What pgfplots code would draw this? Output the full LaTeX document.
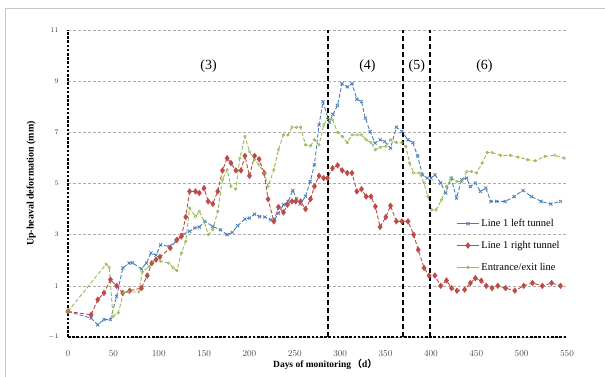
\documentclass[border=0pt]{standalone}
\usepackage{pgfplots}
\pgfplotsset{compat=1.18}
\usepackage{fontspec}
\setmainfont{Liberation Serif}
\newfontfamily\calibri{Carlito}
\newfontfamily\cjk{Noto Sans CJK SC}
\definecolor{cblue}{HTML}{4A7EBB}
\definecolor{cred}{HTML}{BE4B48}
\definecolor{cgreen}{HTML}{98B954}
\begin{document}
\begin{tikzpicture}
\path[use as bounding box] (-68bp,-40bp) rectangle (537bp,337bp);
\draw[gray!45, line width=0.8bp] (-63bp,-45bp) -- (-63bp,329bp) -- (545bp,329bp);
\begin{axis}[
  at={(0,0)}, anchor=south west,
  scale only axis, width=499bp, height=307bp,
  xmin=0, xmax=550, ymin=-1, ymax=11,
  xtick={0,50,...,550}, ytick={-1,1,...,11},
  axis x line*=bottom, axis y line*=left,
  axis line style={-, black, line width=2.2bp, dash pattern=on 2.6bp off 1.6bp},
  major tick length=0pt,
  ymajorgrids,
  grid style={gray!65, line width=0.6bp, dash pattern=on 3bp off 2bp},
  xticklabel style={font=\fontsize{9.5}{10}\selectfont, text=black!70, anchor=base, yshift=-19bp},
  yticklabel style={font=\calibri\fontsize{7.5}{8}\selectfont, text=black!80, anchor=east, xshift=-6bp},
  xlabel={\textbf{Days of monitoring}\,\cjk\bfseries （\textrm{\textbf{d}}）},
  ylabel={\textbf{Up-heaval deformation (mm)}},
  every axis x label/.style={at={(axis description cs:0.515,-0.091)}, anchor=center, font=\fontsize{9.5}{10}\selectfont},
  every axis y label/.style={at={(axis description cs:-0.074,0.5)}, anchor=center, rotate=90, font=\fontsize{10}{11}\selectfont},
  legend style={draw=none, fill=none, at={(rel axis cs:0.772,0.397)}, anchor=north west,
    font=\fontsize{10.5}{11}\selectfont, row sep=9bp},
  legend cell align=left,
  legend image code/.code={\draw[mark repeat=2,mark phase=2,#1,solid,line width=1bp] plot coordinates {(0bp,0bp) (11bp,0bp) (22bp,0bp)};},
  clip=false,
]
\addplot[cblue, line width=0.9bp, dash pattern=on 4bp off 2bp, mark=x, mark size=2.2bp, mark options={solid, line width=0.8bp}] coordinates {
(0,0) (25.5,-0.26) (32.8,-0.52) (39.6,-0.32) (46.8,-0.32) (53.6,0.59) (60.4,1.7) (67.3,1.89) (71,1.9) (80.9,1.66) (86.4,1.89) (91.5,2.28) (97,2.2) (102,2.6) (111.5,2.54) (119,2.74) (125.6,3.0) (134,3.13) (139.6,3.26) (144.7,3.3) (151,3.52) (159.6,3.32) (168,3.19) (175.4,3.0) (181,3.09) (187,3.35) (195,3.61) (200,3.65) (205.6,3.8) (211,3.71) (217,3.69) (223.5,3.58) (227.7,3.6) (232,3.84) (237.5,4.17) (242.6,4.3) (247.8,4.73) (252,4.4) (256,4.2) (261.8,4.5) (267,5.08) (271.6,5.73) (276.7,7.29) (281,8.2) (288,7.4) (292,7.7) (297,8.05) (302,8.9) (308,8.78) (313,8.9) (318.4,8.3) (323.5,8.2) (327.8,7.55) (333,7.03) (338.4,6.58) (344,6.71) (349,6.64) (355.5,6.38) (361.9,7.2) (368,7.03) (374.7,6.71) (380,6.6) (385.3,6.08) (390.8,5.34) (396,5.21) (400,5.21) (404.4,5.34) (410.8,5.02) (416.3,4.63) (422.3,5.21) (428.2,4.43) (434,5.15) (439.3,5.21) (443.5,4.88) (449,5.02) (454.6,4.69) (460.5,4.82) (466,4.3) (472.5,4.3) (481.9,4.3) (491.7,4.49) (501.5,4.73) (510.8,4.49) (521.5,4.3) (532,4.2) (542.8,4.3)
};
\addlegendentry{Line 1 left tunnel}
\addplot[cred, line width=0.9bp, dash pattern=on 4bp off 2bp, mark=diamond*, mark size=2.5bp, mark options={solid}] coordinates {
(0,0) (25.5,-0.13) (32.8,0.46) (39.6,0.72) (46.8,1.24) (53.6,1.0) (60.4,0.72) (68,0.81) (80.9,0.91) (87.3,1.4) (92.4,1.89) (97,2.02) (101.3,2.13) (112.8,2.48) (120,2.8) (125,2.93) (129.8,3.69) (134,4.69) (140.5,4.69) (144.7,4.63) (150,4.82) (154.5,4.3) (159.6,4.2) (165,4.69) (170.3,5.51) (175.4,5.99) (179.6,5.8) (185,5.51) (190.7,5.51) (195,6.08) (200,5.3) (205.6,6.08) (210.7,5.95) (216.3,5.41) (220.5,4.39) (226.9,3.52) (232,4.08) (237.5,3.87) (241.8,4.17) (246.9,4.3) (251,4.3) (256.3,4.3) (261.8,4.0) (267.3,4.39) (271.6,4.89) (276.7,5.3) (281.8,5.21) (286,5.21) (291.6,5.6) (297.2,5.71) (302.3,5.51) (307.8,5.41) (313,5.41) (318.4,4.69) (323.5,4.78) (328.6,4.49) (334,4.49) (338.8,4.1) (344,3.3) (350.3,3.69) (355.5,4.13) (361.9,3.52) (368,3.52) (374.7,3.52) (381,3.0) (386,2.41) (392.4,1.7) (398,1.4) (404.4,1.4) (410.8,1.0) (417.2,1.21) (422.7,0.91) (428.7,0.81) (437.2,0.85) (443.5,1.11) (449,1.3) (455.5,1.2) (461,1.0) (467.4,0.91) (473.8,1.0) (482.3,0.91) (492.5,0.81) (502.3,1.0) (512,1.11) (522.8,1.0) (533,1.11) (542.8,1.0)
};
\addlegendentry{Line 1 right tunnel}
\addplot[cgreen, line width=0.9bp, dash pattern=on 4bp off 2bp, mark=o, mark size=1.3bp, mark options={solid, line width=0.6bp}] coordinates {
(0,0) (42,1.85) (45.5,1.72) (49.6,-0.19) (55.4,-0.06) (61,0.72) (67,0.76) (78,0.76) (82,1.55) (89.4,1.76) (94.5,1.96) (102,1.96) (111,1.89) (116,1.7) (120,1.6) (125,2.28) (129.8,2.74) (134,4.04) (140.5,3.71) (144.7,3.91) (150,3.52) (154.5,3.0) (159.6,3.2) (165,3.91) (170.3,5.15) (175.4,5.54) (179.6,4.89) (185,4.78) (189.4,5.99) (195,6.84) (200,6.25) (205.6,5.93) (210.7,5.73) (216.3,5.41) (220.5,4.89) (226.9,5.54) (232,6.32) (237.5,6.9) (242.6,6.9) (246.9,7.2) (252,7.2) (256.3,7.2) (261.8,6.51) (267.3,6.47) (271.6,6.71) (276.7,6.51) (281.8,7.29) (286,7.55) (291.6,7.49) (297.2,7.0) (302.3,6.84) (307.8,6.6) (313,6.9) (318.4,6.9) (323.5,6.9) (328.6,6.71) (334,6.6) (338.8,6.32) (344,6.42) (350.3,6.45) (355.5,6.71) (361.9,6.6) (368,6.6) (372.3,6.45) (376.6,5.8) (381,5.41) (387.3,5.41) (392.4,5.02) (396.7,4.49) (401,3.97) (405.6,3.97) (411.7,4.36) (417.2,4.89) (422.7,5.21) (428.7,5.08) (434,5.08) (439.7,5.47) (444.9,5.47) (450.4,5.41) (456.4,5.8) (462,6.21) (467.4,6.21) (476.8,6.1) (487.5,6.1) (496,6.03) (506.6,5.93) (515.2,5.89) (525.8,6.06) (536.4,6.1) (547,5.99)
};
\addlegendentry{Entrance/exit line}
\addplot[black, line width=2bp, dash pattern=on 5bp off 3bp, forget plot] coordinates {(287,-1) (287,11)};
\addplot[black, line width=2bp, dash pattern=on 5bp off 3bp, forget plot] coordinates {(369.5,-1) (369.5,11)};
\addplot[black, line width=2bp, dash pattern=on 5bp off 3bp, forget plot] coordinates {(399.5,-1) (399.5,11)};
\node[font=\fontsize{14}{15}\selectfont] at (axis cs:155,9.6) {(3)};
\node[font=\fontsize{14}{15}\selectfont] at (axis cs:330,9.6) {(4)};
\node[font=\fontsize{14}{15}\selectfont] at (axis cs:384.5,9.6) {(5)};
\node[font=\fontsize{14}{15}\selectfont] at (axis cs:459,9.6) {(6)};
\end{axis}
\end{tikzpicture}
\end{document}
